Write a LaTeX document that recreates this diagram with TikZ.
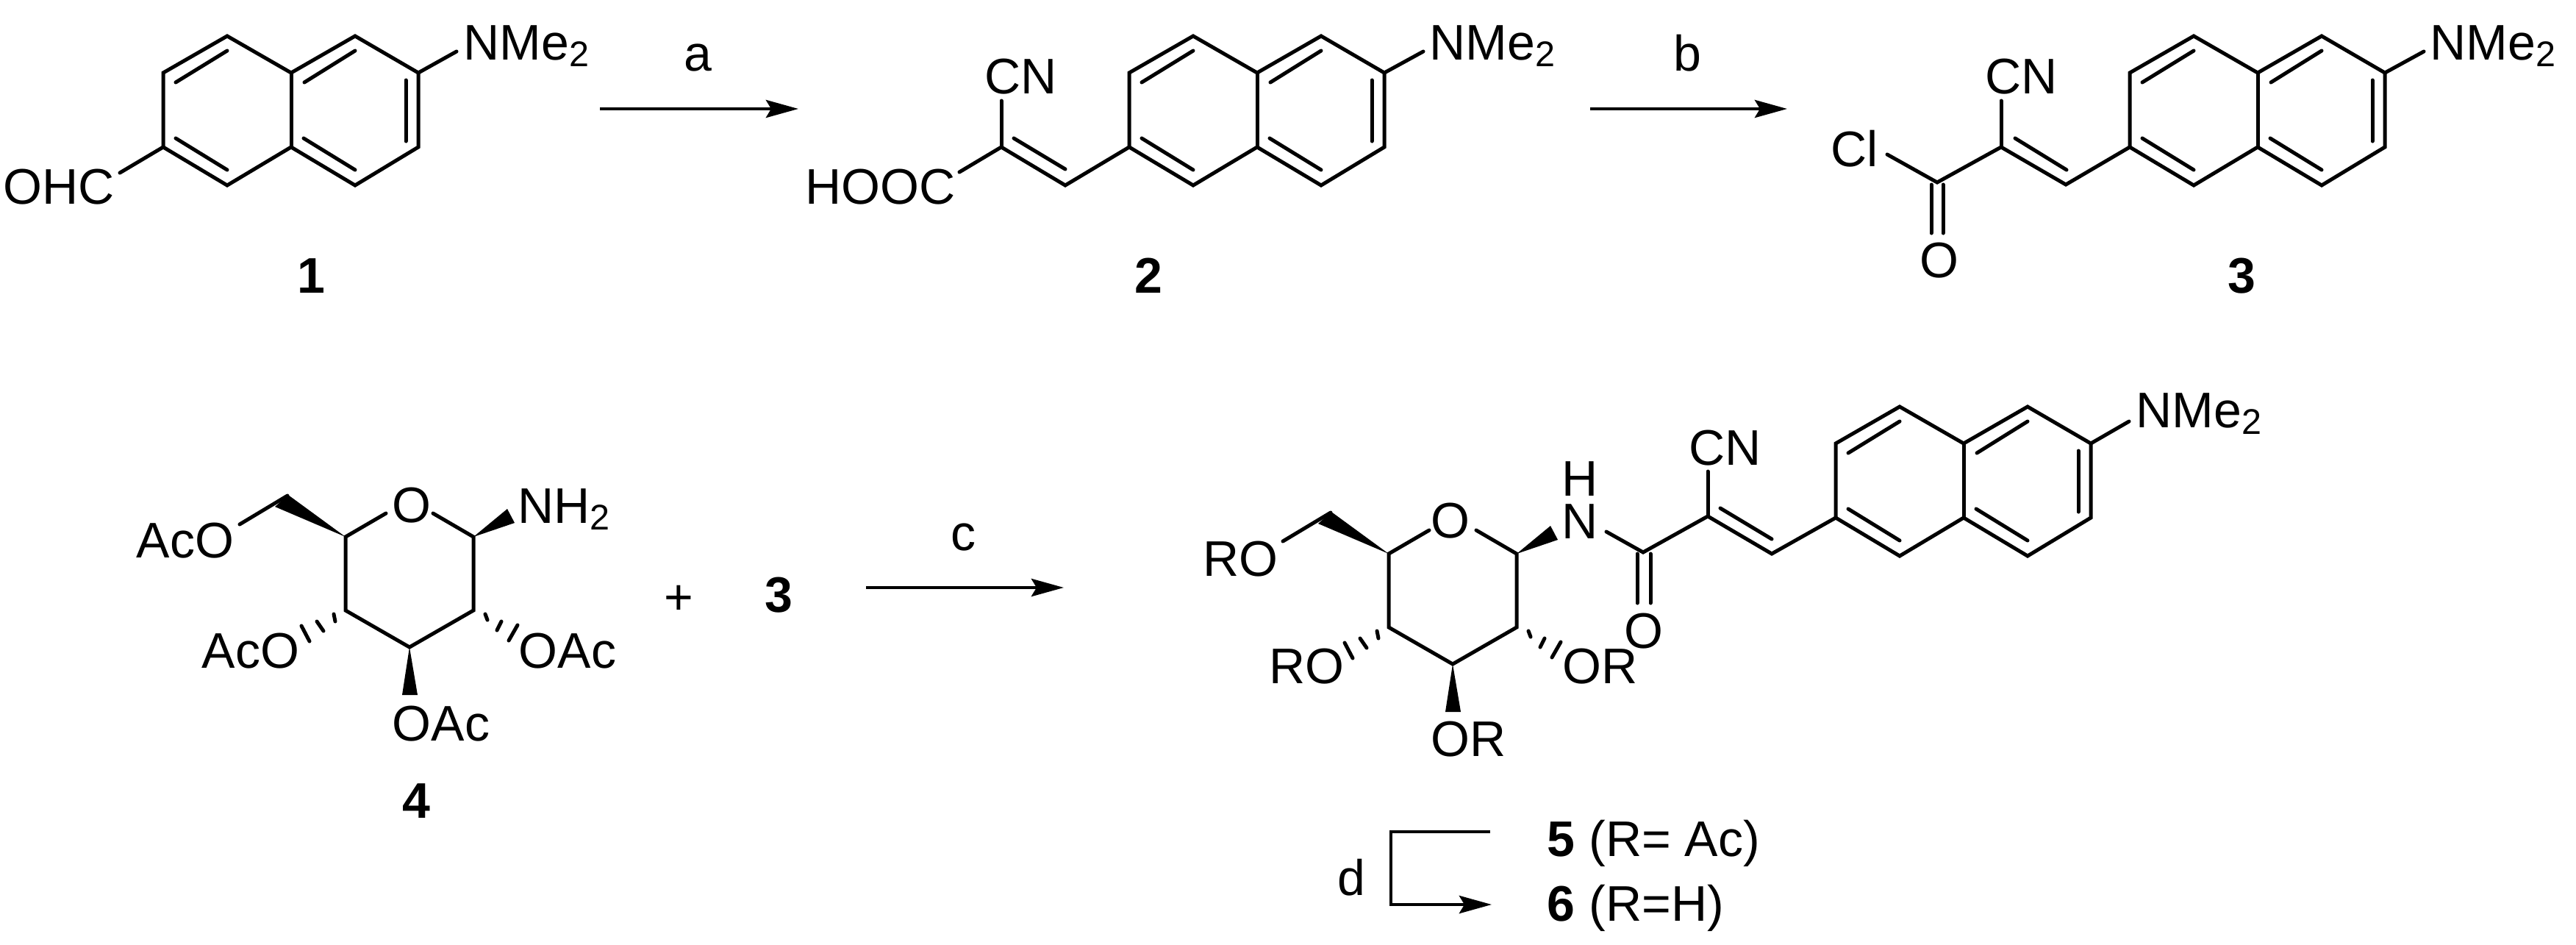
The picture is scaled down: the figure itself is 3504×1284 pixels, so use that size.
\documentclass[tikz,border=0pt]{standalone}
\usepackage{fontspec}
\setmainfont{Liberation Sans}
\usetikzlibrary{
    arrows.meta,
    calc
}
\newcommand{\chemfont}{\fontsize{19.35pt}{23pt}\selectfont}
\newcommand{\lowtwo}{\raisebox{-2.6pt}{\fontsize{13.8pt}{15pt}\selectfont 2}}
\tikzset{
    bond/.style={line width=1.42pt, line cap=round, line join=miter},
    wedgebond/.style={fill=black},
    reaction/.style={line width=1.35pt, line join=miter, -{Stealth[length=0.44cm, width=0.24cm, inset=0.07cm]}},
    atom/.style={inner sep=0pt, anchor=base west, font=\chemfont},
    cmpd/.style={inner sep=0pt, anchor=base, font=\chemfont\bfseries},
    cond/.style={inner sep=0pt, anchor=base, font=\chemfont}
}
% naphthalene, #2 #3 = upper left ring atom
\newcommand{\naphthyl}[3]{
    \begin{scope}[shift={(#2, #3)}]
        \path (0, 0) coordinate (#1a) (87, -50) coordinate (#1b) (174, 0) coordinate (#1c)
        (261, -50) coordinate (#1d) (347, 0) coordinate (#1e) (347, 101) coordinate (#1f)
        (261, 153) coordinate (#1g) (174, 101) coordinate (#1h) (87, 153) coordinate (#1i)
        (0, 101) coordinate (#1j);
        \draw[bond] (#1a) -- (#1b) -- (#1c) -- (#1d) -- (#1e) -- (#1f) -- (#1g) -- (#1h) -- (#1i) -- (#1j) -- cycle;
        \draw[bond] (#1c) -- (#1h);
        \draw[bond] (17, 13) -- (87, -30);
        \draw[bond] (192, 13) -- (261, -30);
        \draw[bond] (330, 10) -- (330, 93);
        \draw[bond] (17, 89) -- (87, 132);
        \draw[bond] (191, 89) -- (261, 132);
    \end{scope}
}
% sugar ring, #2 #3 = ring atom C5
\newcommand{\sugarring}[3]{
    \begin{scope}[shift={(#2, #3)}]
        \path (0, 0) coordinate (#1five) (0, 100) coordinate (#1four) (87, 150) coordinate (#1three)
        (174, 100) coordinate (#1two) (174, 0) coordinate (#1one)
        (55, -32) coordinate (#1ol) (119, -32) coordinate (#1or)
        (-144, -17) coordinate (#1ro) (-79, -56) coordinate (#1six);
        \draw[bond] (#1ol) -- (#1five) -- (#1four) -- (#1three) -- (#1two) -- (#1one) -- (#1or);
        \draw[bond] (#1ro) -- (#1six);
        \fill[wedgebond] (#1five) -- (-78, -57) -- (-96, -41) -- cycle;
        \fill[wedgebond] (#1one) -- (220, -38) -- (230, -19) -- cycle;
        \fill[wedgebond] (#1three) -- (77, 215) -- (98, 215) -- cycle;
        \draw[bond] (-16, 105) -- (-14, 115) (-39, 115) -- (-30, 128) (-60, 121) -- (-49, 142);
        \draw[bond] (190, 105) -- (193, 113) (212, 115) -- (206, 127) (234, 120) -- (222, 141);
    \end{scope}
}
\begin{document}
\begin{tikzpicture}[x=0.01cm, y=-0.01cm]
    \useasboundingbox (0, 0) rectangle (3504, 1284);
    % 1
    \naphthyl{p}{222}{99}
    \node[atom] (nme1) at (630, 81) {NMe\lowtwo};
    \node[atom] (ohc) at (4, 277) {OHC};
    \coordinate (nend1) at (621, 70);
    \coordinate (ohcend) at (163, 235);
    \draw[bond] (pe) -- (nend1);
    \draw[bond] (pj) -- (ohcend);
    \node[cmpd] (one) at (423, 398) {1};
    % a
    \coordinate (astart) at (816, 148);
    \coordinate (aend) at (1086, 148);
    \draw[reaction] (astart) -- (aend);
    \node[cond] (cona) at (949, 96) {a};
    % 2
    \naphthyl{q}{1536}{99}
    \node[atom] (nme2) at (1944, 81) {NMe\lowtwo};
    \node[atom] (cn2) at (1339, 127) {CN};
    \node[atom] (hooc) at (1095, 277) {HOOC};
    \coordinate (nend2) at (1936, 70);
    \coordinate (qalpha) at (1362, 200);
    \coordinate (qch) at (1449, 252);
    \coordinate (cnend2) at (1362, 137);
    \coordinate (hoocend) at (1305, 234);
    \draw[bond] (qe) -- (nend2);
    \draw[bond] (qj) -- (qch) -- (qalpha) -- (hoocend);
    \draw[bond] (qalpha) -- (cnend2);
    \draw[bond] (1379, 188) -- (1449, 230);
    \node[cmpd] (two) at (1562, 398) {2};
    % b
    \coordinate (bstart) at (2163, 148);
    \coordinate (bend) at (2431, 148);
    \draw[reaction] (bstart) -- (bend);
    \node[cond] (conb) at (2295, 96) {b};
    % 3
    \naphthyl{s}{2897}{99}
    \node[atom] (nme3) at (3305, 81) {NMe\lowtwo};
    \node[atom] (cn3) at (2700, 127) {CN};
    \node[atom] (cl) at (2490, 226) {Cl};
    \node[atom] (oxo3) at (2611, 377) {O};
    \coordinate (nend3) at (3297, 70);
    \coordinate (salpha) at (2722, 200);
    \coordinate (sch) at (2810, 251);
    \coordinate (scarb) at (2635, 248);
    \coordinate (cnend3) at (2722, 137);
    \coordinate (clend) at (2567, 210);
    \draw[bond] (se) -- (nend3);
    \draw[bond] (sj) -- (sch) -- (salpha) -- (scarb) -- (clend);
    \draw[bond] (salpha) -- (cnend3);
    \draw[bond] (2741, 188) -- (2811, 231);
    \draw[bond] (2627, 251) -- (2627, 317);
    \draw[bond] (2643, 251) -- (2643, 317);
    \node[cmpd] (three) at (3049, 398) {3};
    % 4
    \sugarring{g}{470}{730}
    \node[atom] (ringo4) at (533, 710) {O};
    \node[atom] (aco6) at (185, 758) {AcO};
    \node[atom] (nh2) at (704, 711) {NH\lowtwo};
    \node[atom] (aco4) at (274, 908) {AcO};
    \node[atom] (aco2) at (705, 908) {OAc};
    \node[atom] (aco3) at (533, 1007) {OAc};
    \node[cmpd] (four) at (566, 1112) {4};
    \node[cond] (plus) at (923, 835) {+};
    \node[cmpd] (threeb) at (1059, 832) {3};
    % c
    \coordinate (cstart) at (1178, 799);
    \coordinate (cend) at (1447, 799);
    \draw[reaction] (cstart) -- (cend);
    \node[cond] (conc) at (1310, 748) {c};
    % 5, 6
    \sugarring{h}{1889}{753}
    \naphthyl{t}{2497}{603}
    \node[atom] (ringo5) at (1946, 731) {O};
    \node[atom] (ro6) at (1636, 783) {RO};
    \node[atom] (ro4) at (1726, 929) {RO};
    \node[atom] (or2) at (2125, 929) {OR};
    \node[atom] (or3) at (1946, 1028) {OR};
    \node[atom] (amn) at (2124, 732) {N};
    \node[atom] (amh) at (2124, 674) {H};
    \node[atom] (cn5) at (2297, 632) {CN};
    \node[atom] (oxo5) at (2209, 881) {O};
    \node[atom] (nme5) at (2905, 581) {NMe\lowtwo};
    \coordinate (nend5) at (2896, 573);
    \coordinate (talpha) at (2323, 702);
    \coordinate (tch) at (2410, 753);
    \coordinate (tcarb) at (2235, 751);
    \coordinate (cnend5) at (2323, 641);
    \coordinate (amend) at (2185, 723);
    \draw[bond] (te) -- (nend5);
    \draw[bond] (tj) -- (tch) -- (talpha) -- (tcarb) -- (amend);
    \draw[bond] (talpha) -- (cnend5);
    \draw[bond] (2340, 691) -- (2410, 733);
    \draw[bond] (2227, 753) -- (2227, 820);
    \draw[bond] (2245, 753) -- (2245, 820);
    % d
    \coordinate (dstart) at (2027, 1131);
    \coordinate (dcorner) at (1892, 1131);
    \coordinate (dlow) at (1892, 1230);
    \coordinate (dend) at (2029, 1230);
    \draw[reaction] (dstart) -- (dcorner) -- (dlow) -- (dend);
    \node[cond] (cond) at (1838, 1217) {d};
    \node[atom] (five) at (2104, 1164) {\textbf{5} (R= Ac)};
    \node[atom] (six) at (2104, 1252) {\textbf{6} (R=H)};
\end{tikzpicture}
\end{document}
